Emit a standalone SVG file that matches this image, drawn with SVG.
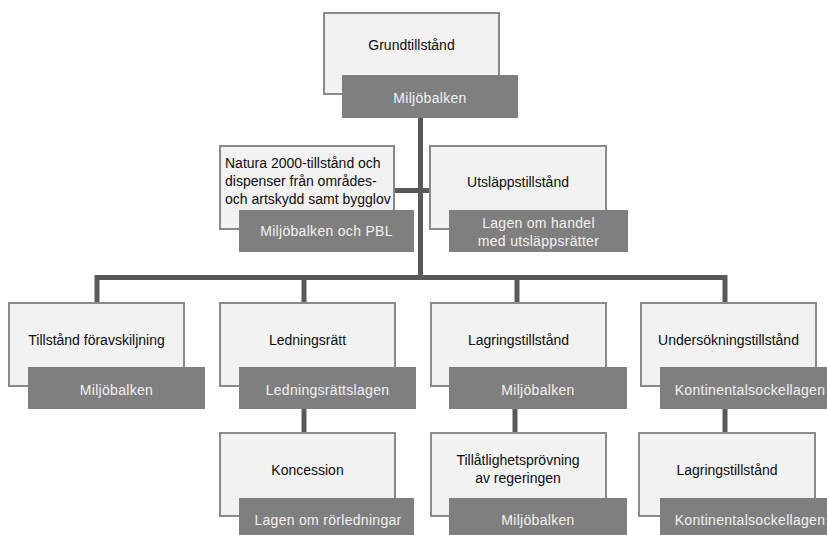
<svg xmlns="http://www.w3.org/2000/svg" width="827" height="535" viewBox="0 0 827 535">
<style>
.box{fill:#f2f2f2;stroke:#8a8a8a;stroke-width:2}
.law{fill:#7f7f7f}
.t{font-family:"Liberation Sans",Arial,sans-serif;font-size:14px;fill:#0d0d0d;text-anchor:middle}
.tl{font-family:"Liberation Sans",Arial,sans-serif;font-size:14px;fill:#0d0d0d;text-anchor:start}
.lt{font-family:"Liberation Sans",Arial,sans-serif;font-size:14px;fill:#f2f2f2;text-anchor:middle;letter-spacing:0.3px}
.c{fill:none;stroke:#595959;stroke-width:5;stroke-linejoin:miter}
</style>
<rect width="827" height="535" fill="#ffffff"/>
<g id="connectors">
<path class="c" d="M420.5 118 V277.5"/>
<path class="c" d="M395 190.5 H430"/>
<path class="c" d="M97 302 V277.5 H725 V302"/>
<path class="c" d="M304 277.5 V302"/>
<path class="c" d="M517 277.5 V302"/>
<path class="c" d="M304 409 V432"/>
<path class="c" d="M515 409 V432"/>
<path class="c" d="M725 409 V432"/>
</g>
<g id="grundtillstand">
<rect class="box" x="324" y="13" width="175" height="81"/>
<rect class="law" x="342" y="75" width="176" height="43"/>
<text class="t" x="411.5" y="50">Grundtillstånd</text>
<text class="lt" x="430" y="103">Miljöbalken</text>
</g>
<g id="natura">
<rect class="box" x="220" y="146" width="174" height="83"/>
<rect class="law" x="239" y="210" width="175" height="42"/>
<text class="tl" x="225" y="168">Natura 2000-tillstånd och</text>
<text class="tl" x="225" y="186">dispenser från områdes-</text>
<text class="tl" x="225" y="204">och artskydd samt bygglov</text>
<text class="lt" x="326.5" y="236">Miljöbalken och PBL</text>
</g>
<g id="utslapp">
<rect class="box" x="430" y="146" width="176" height="83"/>
<rect class="law" x="449" y="210" width="179" height="42"/>
<text class="t" x="518" y="187">Utsläppstillstånd</text>
<text class="lt" x="538.5" y="228">Lagen om handel</text>
<text class="lt" x="538.5" y="246">med utsläppsrätter</text>
</g>
<g id="avskiljning">
<rect class="box" x="9" y="303" width="175" height="83"/>
<rect class="law" x="28" y="367" width="177" height="42"/>
<text class="t" x="96.5" y="345">Tillstånd föravskiljning</text>
<text class="lt" x="116.5" y="395">Miljöbalken</text>
</g>
<g id="ledningsratt">
<rect class="box" x="220" y="303" width="175" height="83"/>
<rect class="law" x="239" y="367" width="177" height="42"/>
<text class="t" x="307.5" y="345">Ledningsrätt</text>
<text class="lt" x="327.5" y="395">Ledningsrättslagen</text>
</g>
<g id="lagring1">
<rect class="box" x="431" y="303" width="175" height="83"/>
<rect class="law" x="449" y="367" width="178" height="42"/>
<text class="t" x="518.5" y="345">Lagringstillstånd</text>
<text class="lt" x="538" y="395">Miljöbalken</text>
</g>
<g id="undersokning">
<rect class="box" x="641" y="303" width="175" height="83"/>
<rect class="law" x="660" y="367" width="177" height="42"/>
<text class="t" x="728.5" y="345">Undersökningstillstånd</text>
<text class="lt" x="750" y="395">Kontinentalsockellagen</text>
</g>
<g id="koncession">
<rect class="box" x="220" y="433" width="175" height="83"/>
<rect class="law" x="239" y="498" width="175" height="42"/>
<text class="t" x="307.5" y="475">Koncession</text>
<text class="lt" x="328" y="525">Lagen om rörledningar</text>
</g>
<g id="tillatlighet">
<rect class="box" x="431" y="433" width="175" height="83"/>
<rect class="law" x="449" y="498" width="178" height="42"/>
<text class="t" x="518" y="465">Tillåtlighetsprövning</text>
<text class="t" x="518" y="483">av regeringen</text>
<text class="lt" x="538" y="525">Miljöbalken</text>
</g>
<g id="lagring2">
<rect class="box" x="639" y="433" width="176" height="83"/>
<rect class="law" x="660" y="498" width="177" height="42"/>
<text class="t" x="727" y="475">Lagringstillstånd</text>
<text class="lt" x="750" y="525">Kontinentalsockellagen</text>
</g>
</svg>
